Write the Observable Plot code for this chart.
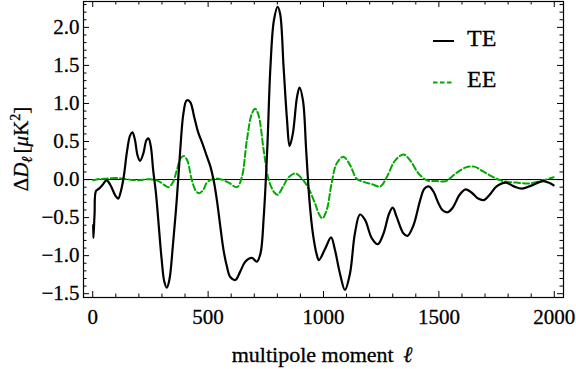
<!DOCTYPE html>
<html>
<head>
<meta charset="utf-8">
<script src="https://cdn.jsdelivr.net/npm/d3@7"></script>
<script src="https://cdn.jsdelivr.net/npm/@observablehq/plot@0.6"></script>
<style>
  html, body { margin: 0; padding: 0; background: white; }
  #chart { width: 576px; height: 369px; }
  #chart svg text { stroke: black; stroke-width: 0.3px; }
</style>
</head>
<body>
<div id="chart"></div>
<script>
// ---- data ----
const teL = [2,3,8,14,27,41,60,77,98,110,123,134,149,162,172,183,194,205,219,233,242,252,262,274,284,299,310,321,332,347,364,379,393,407,422,440,457,476,495,510,524,538,553,567,582,596,618,639,661,690,711,727,741,756,770,785,801,812,827,842,853,867,885,896,911,925,939,954,971,980,1007,1033,1050,1071,1093,1115,1136,1158,1180,1209,1235,1260,1284,1300,1317,1347,1364,1390,1419,1437,1456,1477,1495,1515,1538,1560,1590,1616,1645,1670,1695,1720,1750,1790,1825,1860,1900,1951,1975,1997];
const teV = [-0.6,-0.77,-0.45,-0.15,-0.12,-0.075,-0.01,-0.075,-0.21,-0.25,-0.14,0.03,0.38,0.58,0.62,0.52,0.32,0.245,0.34,0.52,0.54,0.43,0.12,-0.18,-0.53,-1.06,-1.34,-1.42,-1.32,-0.88,-0.27,0.38,0.87,1.04,1.02,0.82,0.62,0.47,0.30,0.17,-0.01,-0.27,-0.62,-0.93,-1.15,-1.28,-1.32,-1.21,-1.08,-1.03,-1.08,-0.97,-0.49,0.38,1.48,2.09,2.27,2.18,1.48,0.78,0.44,0.60,1.08,1.21,1.04,0.38,-0.27,-0.71,-0.99,-1.06,-0.91,-0.76,-0.93,-1.23,-1.45,-1.23,-0.71,-0.46,-0.53,-0.77,-0.85,-0.71,-0.45,-0.37,-0.49,-0.71,-0.74,-0.60,-0.27,-0.12,-0.09,-0.16,-0.29,-0.40,-0.43,-0.37,-0.20,-0.13,-0.18,-0.25,-0.27,-0.20,-0.09,-0.04,-0.09,-0.12,-0.08,-0.02,-0.04,-0.075];
const eeL = [2,20,50,100,145,190,250,285,314,328,347,364,381,395,410,428,447,462,480,495,524,553,589,625,646,668,690,704,719,741,763,787,801,827,849,878,907,936,964,980,995,1014,1035,1057,1086,1115,1144,1173,1209,1246,1274,1310,1347,1376,1412,1448,1491,1530,1573,1617,1653,1690,1733,1777,1836,1894,1951,1997];
const eeV = [-0.01,0.005,0.01,0.02,0.005,-0.01,0.005,-0.02,-0.08,-0.10,-0.04,0.12,0.28,0.31,0.25,0.01,-0.15,-0.18,-0.13,-0.04,0.01,0.005,-0.04,-0.10,0.03,0.52,0.87,0.93,0.84,0.38,-0.01,-0.17,-0.20,-0.08,0.03,0.08,0.01,-0.12,-0.32,-0.45,-0.51,-0.40,-0.05,0.21,0.30,0.19,0.01,-0.03,-0.06,-0.09,0.03,0.25,0.33,0.25,0.08,-0.01,-0.02,-0.02,0.08,0.16,0.17,0.11,0.035,-0.02,-0.04,-0.05,-0.01,0.03];
const xTickLabels = [0, 500, 1000, 1500, 2000];
const yTickLabels = [-1.5, -1.0, -0.5, 0.0, 0.5, 1.0, 1.5, 2.0];
const seriesNames = ["TE", "EE"];

// ---- build ----
const te = teL.map((l, i) => ({l, v: teV[i]}));
const ee = eeL.map((l, i) => ({l, v: eeV[i]}));
const xMinor = d3.range(0, 2001, 100).filter(d => d % 500 !== 0);
const yMinor = d3.range(-15, 24).map(d => d / 10).filter(d => Math.abs(Math.round(d * 10) % 5) !== 0);

const W = 576, H = 369;
const mL = 83, mR = 13, mT = 1, mB = 72;
const innerW = W - mL - mR, innerH = H - mT - mB;
const MAJ = 6, MIN = 3.5;
const green = "#00aa00";
const font = "'Liberation Serif', 'Times New Roman', serif";
const fmtY = d => d.toFixed(1).replace("-", "\u2212");

const svg = Plot.plot({
  width: W, height: H,
  marginLeft: mL, marginRight: mR, marginTop: mT, marginBottom: mB,
  x: {domain: [-40, 2040]},
  y: {domain: [-1.55, 2.34]},
  style: {fontFamily: font, fontSize: "21px", color: "black", background: "white"},
  marks: [
    Plot.ruleY([0], {stroke: "black", strokeWidth: 1}),
    Plot.line(ee, {x: "l", y: "v", stroke: green, strokeWidth: 2, strokeDasharray: "6,3", curve: "catmull-rom"}),
    Plot.line(te, {x: "l", y: "v", stroke: "black", strokeWidth: 2.2, curve: "catmull-rom"}),
    // inward ticks on all four sides
    Plot.tickX(xTickLabels, {x: d => d, insetTop: innerH - MAJ, stroke: "black"}),
    Plot.tickX(xTickLabels, {x: d => d, insetBottom: innerH - MAJ, stroke: "black"}),
    Plot.tickX(xMinor, {x: d => d, insetTop: innerH - MIN, stroke: "black"}),
    Plot.tickX(xMinor, {x: d => d, insetBottom: innerH - MIN, stroke: "black"}),
    Plot.tickY(yTickLabels, {y: d => d, insetRight: innerW - MAJ, stroke: "black"}),
    Plot.tickY(yTickLabels, {y: d => d, insetLeft: innerW - MAJ, stroke: "black"}),
    Plot.tickY(yMinor, {y: d => d, insetRight: innerW - MIN, stroke: "black"}),
    Plot.tickY(yMinor, {y: d => d, insetLeft: innerW - MIN, stroke: "black"}),
    Plot.frame({stroke: "black", strokeWidth: 1.2}),
    Plot.axisX(xTickLabels, {tickSize: 0, tickPadding: 12, tickFormat: d => String(d), label: null, fontFamily: font}),
    Plot.axisY(yTickLabels, {tickSize: 0, tickPadding: 4, tickFormat: fmtY, label: null, fontFamily: font})
  ]
});
document.getElementById("chart").appendChild(svg);

const s = d3.select(svg);

// x-axis label
const xl = s.append("text")
  .attr("x", 322).attr("y", 362)
  .attr("text-anchor", "middle")
  .style("font-family", font).attr("font-size", 22).attr("fill", "black");
xl.append("tspan").text("multipole moment ");
xl.append("tspan").attr("font-style", "italic").attr("dx", 4).text("\u2113");

// y-axis label
const yl = s.append("text")
  .attr("transform", "translate(28,149) rotate(-90)")
  .attr("text-anchor", "middle")
  .style("font-family", font).attr("font-size", 21).attr("fill", "black");
yl.append("tspan").text("\u0394");
yl.append("tspan").attr("font-style", "italic").text("D");
yl.append("tspan").attr("font-style", "italic").attr("font-size", 15).attr("dy", 4).text("\u2113");
yl.append("tspan").attr("dy", -4).attr("dx", 3).text("[");
yl.append("tspan").attr("font-style", "italic").text("\u03bc");
yl.append("tspan").text("K");
yl.append("tspan").attr("font-size", 14).attr("dy", -8).text("2");
yl.append("tspan").attr("dy", 8).text("]");

// legend
const leg = s.append("g");
const rows = [
  {name: seriesNames[0], y: 41, stroke: "black", dash: null, ty: 46},
  {name: seriesNames[1], y: 82.5, stroke: green, dash: "4.5,2.5", ty: 87}
];
rows.forEach(r => {
  leg.append("line").attr("x1", 433).attr("x2", 454).attr("y1", r.y).attr("y2", r.y)
    .attr("stroke", r.stroke).attr("stroke-width", 2).attr("stroke-dasharray", r.dash);
  leg.append("text").attr("x", 467).attr("y", r.ty)
    .attr("text-anchor", "start")
    .style("font-family", font).attr("font-size", 24).attr("fill", "black").text(r.name);
});
</script>
</body>
</html>
